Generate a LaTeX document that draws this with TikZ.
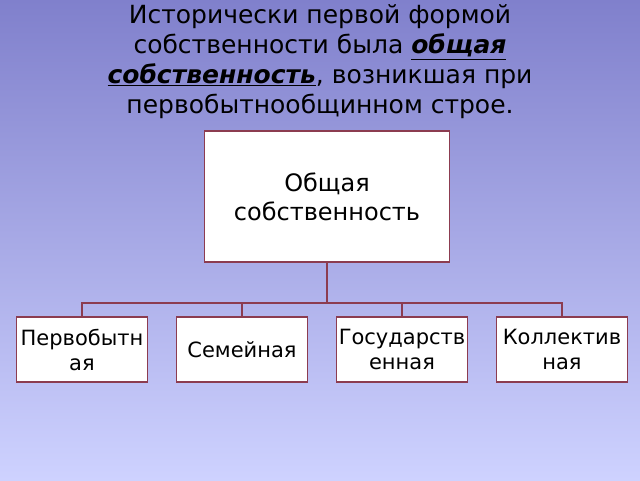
\documentclass[tikz,border=0pt]{standalone}
\usepackage{fontspec}
\setmainfont{DejaVu Sans}
\definecolor{linkred}{RGB}{140,60,80}
\definecolor{bgtop}{RGB}{128,128,204}
\definecolor{bgbottom}{RGB}{206,210,255}
\tikzset{
  title-node/.style = {align=center, font=\fontsize{25}{30}\selectfont},
  root-box/.style   = {rectangle, draw=linkred, fill=white, line width=1.5pt,
                       minimum width=245pt, minimum height=131pt, align=center,
                       font=\fontsize{24}{29}\selectfont},
  leaf-box/.style   = {rectangle, draw=linkred, fill=white, line width=1.5pt,
                       inner sep=1pt, minimum width=131pt, minimum height=65pt,
                       align=center, font=\fontsize{21}{25}\selectfont},
}

\begin{document}
\begin{tikzpicture}
  [
    grow                    = down,
    sibling distance        = 160pt,
    level distance          = 153pt,
    every child node/.style = {xshift=-5pt},
    edge from parent/.style = {draw=linkred, line width=1.6pt},
    edge from parent path   = {(\tikzparentnode.south) -- ++(0,-40pt) -| (\tikzchildnode.north)}
  ]
  \useasboundingbox (0,0) rectangle (640pt,-480pt);
  \shade [top color=bgtop, bottom color=bgbottom] (0,0) rectangle (640pt,-480pt);
  % heading
  \node [title-node] (heading) at (320pt,-62pt)
    {Исторически первой формой\\
     собственности была \textbf{\textit{\underline{общая}}}\\
     \textbf{\textit{\underline{собственность}}}, возникшая при\\
     первобытнообщинном строе.};
  % tree of forms
  \node [root-box] (common) at (327pt,-196.5pt) {Общая\\собственность}
    child { node [leaf-box] (primitive) {Первобытн\\ая} }
    child { node [leaf-box] (family) {Семейная} }
    child { node [leaf-box] (state) {Государств\\енная} }
    child { node [leaf-box] (collective) {Коллектив\\ная} };
\end{tikzpicture}
\end{document}
